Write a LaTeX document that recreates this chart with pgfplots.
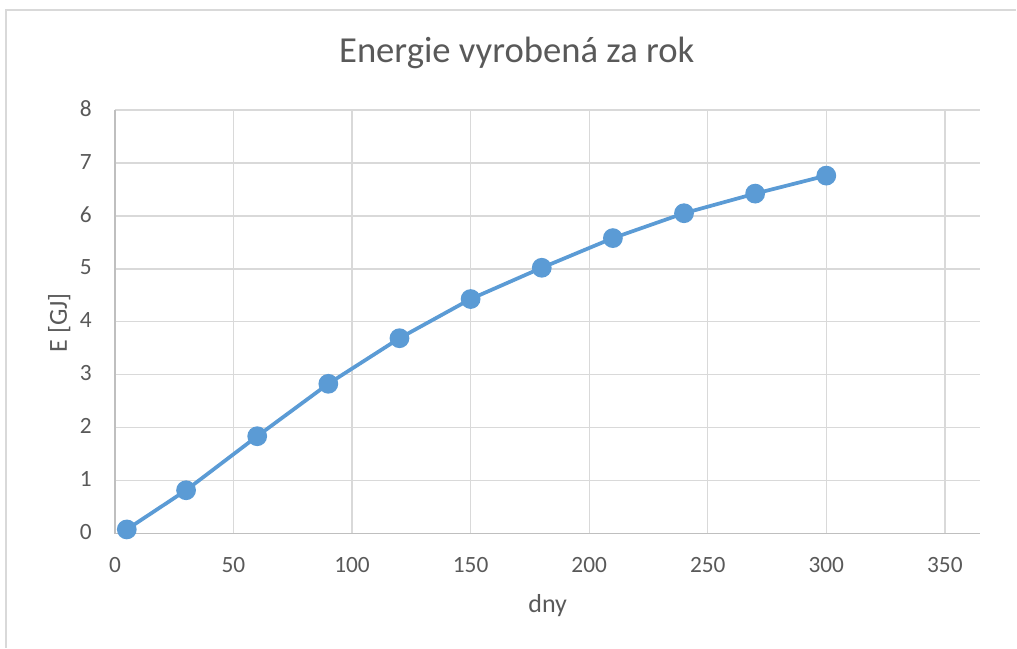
\documentclass[border=0pt]{standalone}
\usepackage{fontspec}
\setmainfont{Carlito}
\usepackage{pgfplots}
\pgfplotsset{compat=1.18}
\definecolor{txtgray}{HTML}{595959}
\definecolor{gridgray}{HTML}{D9D9D9}
\definecolor{axisgray}{HTML}{BFBFBF}
\definecolor{xlblue}{HTML}{5B9BD5}

\begin{document}
\begin{tikzpicture}
  % page = 1017 x 648 px at 0.75pt per px
  \path (0,0) rectangle (762.75pt,486pt);
  \draw[gridgray, line width=0.9pt] (4.5pt,0) -- (4.5pt,478.5pt) -- (762.75pt,478.5pt);

  \begin{axis}[
      at={(86.25pt,85.5pt)},
      anchor=south west,
      scale only axis,
      width=649.5pt,
      height=318pt,
      xmin=0, xmax=365,
      ymin=0, ymax=8,
      xtick={0,50,...,350},
      ytick={0,1,...,8},
      axis lines=left,
      axis line style={-, draw=axisgray, line width=1.1pt},
      major tick length=0pt,
      grid=major,
      grid style={draw=gridgray, line width=1pt},
      clip=false,
      /pgf/number format/assume math mode=true,
      ticklabel style={font=\fontsize{17.5}{20}\selectfont, text=txtgray, inner sep=0pt},
      xticklabel style={anchor=base, yshift=-29.25pt},
      yticklabel style={anchor=east, xshift=-17.25pt, yshift=1pt},
    ]
    \addplot[color=xlblue, line width=2.8pt, mark=*,
             mark options={fill=xlblue, draw=none}, mark size=6pt]
      coordinates {
        (5,0.08) (30,0.82) (60,1.84) (90,2.83) (120,3.69) (150,4.43)
        (180,5.02) (210,5.58) (240,6.05) (270,6.42) (300,6.76)
      };
  \end{axis}

  \node[anchor=base, inner sep=0pt, text=txtgray, font=\fontsize{27.5}{32}\selectfont]
    at (387.75pt,438.75pt) {Energie vyrobená za rok};
  \node[anchor=base, inner sep=0pt, text=txtgray, font=\fontsize{19.5}{23}\selectfont]
    at (411pt,26.25pt) {dny};
  \node[anchor=base, rotate=90, inner sep=0pt, text=txtgray, font=\fontsize{19.5}{23}\selectfont]
    at (50.25pt,243.75pt) {E [GJ]};
\end{tikzpicture}
\end{document}
